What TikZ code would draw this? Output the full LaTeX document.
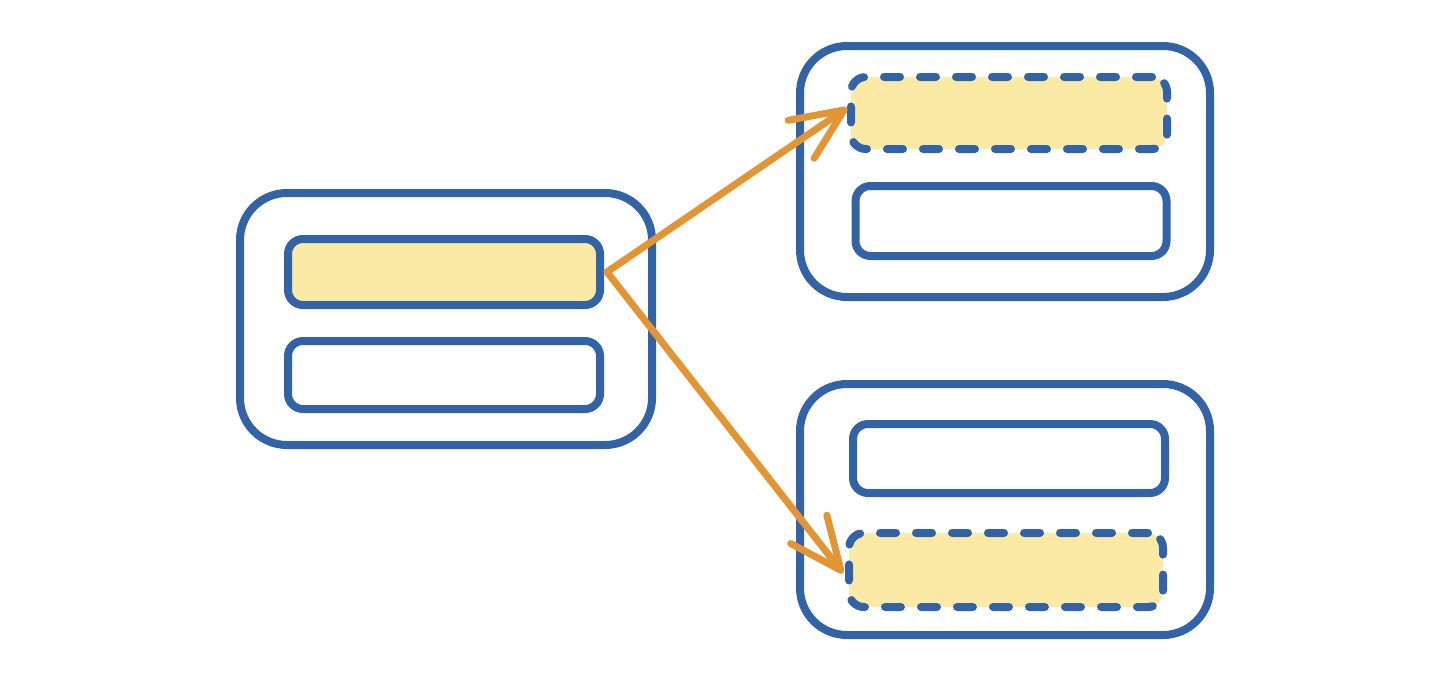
\documentclass[tikz,border=0pt]{standalone}
\usetikzlibrary{arrows.meta}
\definecolor{bblue}{HTML}{3263A6}
\definecolor{byellow}{HTML}{FBEAA5}
\definecolor{borange}{HTML}{E39433}
\tikzset{
  outerbox/.style={draw=bblue, line width=8pt, rounded corners=47pt, minimum width=410pt, minimum height=251pt, inner sep=0pt, outer sep=0pt},
  slot/.style={draw=bblue, line width=8pt, rounded corners=15pt, inner sep=0pt, outer sep=0pt, line cap=round, line join=round},
  hot/.style={slot, fill=byellow},
  dashslot/.style={hot, dash pattern=on 16pt off 20pt},
  link/.style={draw=borange, line width=7pt, line cap=round, line join=round, -{Straight Barb[round,length=52pt,width=46pt,line width=7pt]}}
}
\begin{document}
\begin{tikzpicture}[x=1pt,y=-1pt]
\useasboundingbox (0,0) rectangle (1450,694);
% left group
\node[outerbox, minimum width=412pt, minimum height=252pt] (lout) at (446,319) {};
\node[hot, minimum width=312pt, minimum height=66pt] (ltop) at (444,272) {};
\node[slot, minimum width=312pt, minimum height=68pt] (lbot) at (444,375) {};
% top right group
\node[outerbox] (trout) at (1005,171.5) {};
\node[dashslot, minimum width=316pt, minimum height=72pt] (trtop) at (1009,113) {};
\node[slot, minimum width=311pt, minimum height=70pt] (trbot) at (1011,221) {};
% bottom right group
\node[outerbox] (brout) at (1005,509.5) {};
\node[slot, minimum width=312pt, minimum height=69pt] (brtop) at (1009,458.5) {};
\node[dashslot, minimum width=314pt, minimum height=74pt] (brbot) at (1006,570) {};
% arrows
\coordinate (src) at ([xshift=7pt]ltop.east);
\draw[link] (src) -- ([xshift=-4pt,yshift=5pt]trtop.west);
\draw[link] (src) -- ([xshift=-6pt,yshift=-3pt]brbot.west);
\end{tikzpicture}
\end{document}
